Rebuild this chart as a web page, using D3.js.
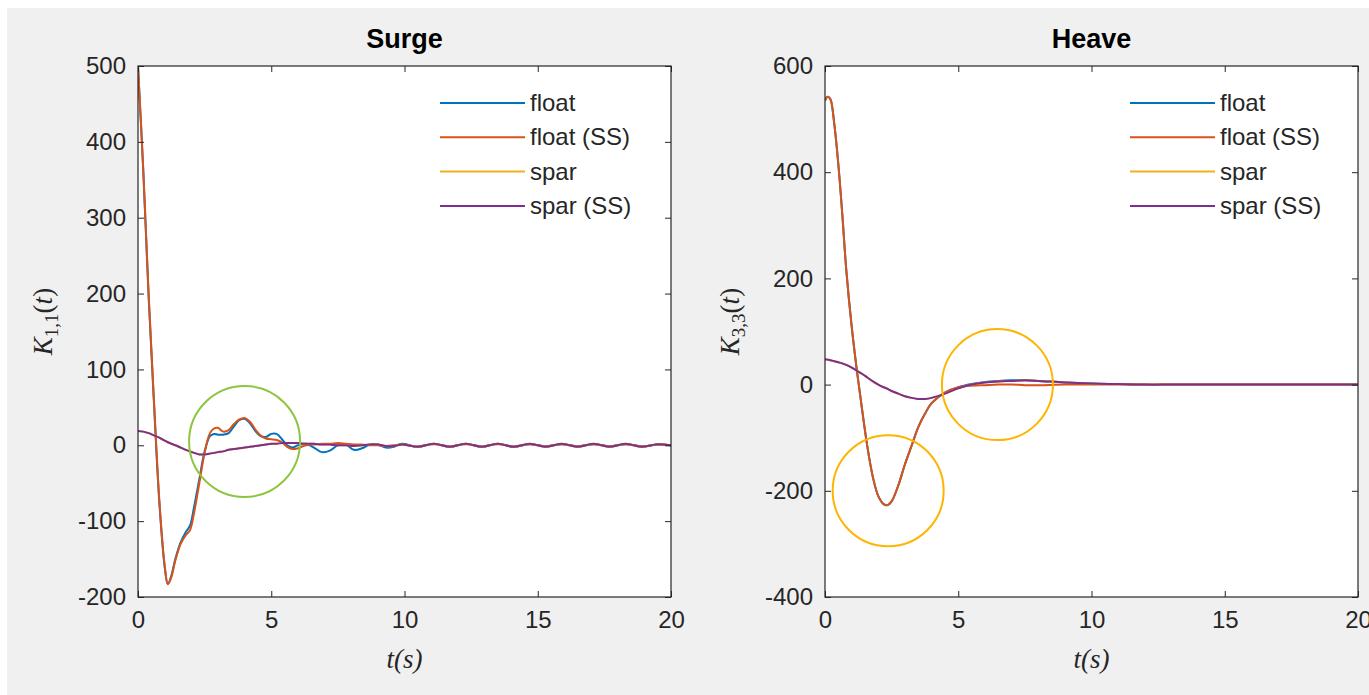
<!DOCTYPE html>
<html>
<head>
<meta charset="utf-8">
<script src="https://cdn.jsdelivr.net/npm/d3@7"></script>
<style>
  html, body { margin: 0; padding: 0; background: #fff; }
  svg { display: block; }
</style>
</head>
<body>
<div id="chart"></div>
<script>
// ---- data ----
const seriesNames = ['float', 'float (SS)', 'spar', 'spar (SS)'];
const seriesColors = ['#0072bd', '#d95319', '#edb120', '#7e2f8e'];

const surgeT = [0, 0.2, 0.4, 0.6, 0.8, 1.0, 1.12, 1.25, 1.4, 1.6, 1.8, 1.95, 2.1, 2.3, 2.5, 2.7, 2.85, 3.0,
  3.2, 3.4, 3.6, 3.8, 4.0, 4.2, 4.4, 4.6, 4.8, 5.0, 5.2, 5.4, 5.6, 5.8, 6.0,
  6.3, 6.6, 6.9, 7.2, 7.5, 7.8, 8.1, 8.4, 8.7, 9.0, 9.3, 9.6, 9.9,
  10.5, 11.1, 11.7, 12.3, 12.9, 13.5, 14.1, 14.7, 15.3, 15.9, 16.5, 17.1, 17.7, 18.3, 18.9, 19.5, 20];
const surgeFloat = [500, 360, 195, 55, -75, -160, -183, -172, -150, -128, -114, -106, -82, -45, -8, 12, 15, 14,
  14, 16, 25, 33, 35, 29, 19, 12, 11, 15, 15, 8, 0, -3, 0,
  2, -3, -9, -7, 0, 1, -6, -4, 1, 1, -3, -2, 2,
  -2, 2, -2, 2, -2, 2, -2, 1.5, -1.5, 1.5, -1.5, 1.5, -1.5, 1.5, -1.5, 1, 0];
const surgeFloatSS = [500, 362, 198, 58, -72, -158, -183, -174, -152, -130, -118, -112, -90, -50, -10, 16, 22, 23,
  18, 20, 28, 34, 36, 31, 21, 13, 9, 8, 7, 4, -2, -5, -4,
  0, 1, 2, 2, 3, 2, 1, 1, 0, 0, -1, 0, 1,
  -1.5, 1.5, -1.5, 1.5, -1.5, 1.5, -1.5, 1.5, -1.5, 1.5, -1.5, 1.5, -1.5, 1.5, -1.5, 1, 0];
const surgeSpar = [19, 18, 16, 13, 10, 6, 4, 2, 0, -3, -6, -8, -10, -12, -12, -11, -10, -9,
  -8, -6, -5, -4, -3, -2, -1, 0, 1, 2, 2, 3, 3, 3, 3,
  2, 2, 1, 1, 0, 0, -1, 0, 1, 1, -1, -1, 1,
  -2, 2, -2, 2, -2, 2, -2, 2, -2, 2, -2, 2, -2, 2, -2, 1.5, 0];
const surgeSparSS = [19, 18, 16, 13, 10, 6, 4, 2, 0, -3, -6, -8, -10, -12, -12, -11, -10, -9,
  -8, -6, -5, -4, -3, -2, -1, 0, 1, 2, 2, 3, 3, 3, 3,
  2, 2, 1, 1, 0, 0, -1, 0, 1, 1, -1, -1, 1,
  -2, 2, -2, 2, -2, 2, -2, 2, -2, 2, -2, 2, -2, 2, -2, 1.5, 0];

const heaveT = [0, 0.1, 0.2, 0.35, 0.5, 0.65, 0.8, 1.0, 1.2, 1.4, 1.6, 1.8, 2.0, 2.2, 2.35, 2.5, 2.75, 3.0,
  3.25, 3.5, 3.75, 4.0, 4.5, 5.0, 5.5, 6.0, 6.5, 7.0, 7.5, 8.0, 9, 10, 11, 12, 13, 14, 15, 16, 17, 18, 19, 20];
const heaveFloat = [535, 542, 538, 490, 415, 320, 215, 110, 25, -50, -120, -175, -210, -225, -227, -220, -190, -150,
  -115, -80, -55, -35, -15, -5, 1, 5, 7, 8, 8, 7, 4, 2, 1, 0, 0, 0, 0, 0, 0, 0, 0, 0];
const heaveFloatSS = [535, 542, 538, 490, 415, 320, 215, 110, 25, -50, -120, -175, -210, -225, -227, -220, -190, -150,
  -115, -80, -55, -35, -15, -5, -2, -1, 0, 0, -1, -1, 0, 0, 0, 0, 0, 0, 0, 0, 0, 0, 0, 0];
const heaveSpar = [48, 47, 46, 44, 42, 40, 37, 32, 26, 20, 13, 6, 0, -5, -8, -12, -17, -22,
  -25, -27, -27, -25, -17, -7, 0, 4, 6, 7, 8, 7, 4, 2, 1, 0, 0, 0, 0, 0, 0, 0, 0, 0];
const heaveSparSS = [48, 47, 46, 44, 42, 40, 37, 32, 26, 20, 13, 6, 0, -5, -8, -12, -17, -22,
  -25, -27, -27, -25, -17, -7, 0, 4, 6, 7, 8, 7, 4, 2, 1, 0, 0, 0, 0, 0, 0, 0, 0, 0];

const xTicks = [0, 5, 10, 15, 20];
const surgeYTicks = [-200, -100, 0, 100, 200, 300, 400, 500];
const heaveYTicks = [-400, -200, 0, 200, 400, 600];

// annotation circles, centres in data units
const surgeMarks = [{ t: 4.0, v: 5, color: '#8cc63f' }];
const heaveMarks = [{ t: 2.37, v: -200, color: '#ffb400' }, { t: 6.47, v: 0, color: '#ffb400' }];

// ---- drawing ----
const W = 1369, H = 695;
const INK = '#262626';
const SANS = '"Liberation Sans", Arial, Helvetica, sans-serif';
const SERIF = '"Liberation Serif", "DejaVu Serif", serif';
const plain = d => String(d);   // MATLAB style hyphen minus

const svg = d3.select('#chart').append('svg').attr('width', W).attr('height', H);
svg.append('rect').attr('x', 7).attr('y', 8).attr('width', W - 7).attr('height', H - 8).attr('fill', '#f0f0f0');

function panel(o) {
  const { left, right, top, bottom } = o;
  const x = d3.scaleLinear().domain([0, 20]).range([left, right]);
  const y = d3.scaleLinear().domain(o.yDomain).range([bottom, top]);
  const g = svg.append('g');

  g.append('rect').attr('x', left).attr('y', top).attr('width', right - left).attr('height', bottom - top).attr('fill', '#fff');

  const clipId = 'clip-' + o.id;
  svg.append('defs').append('clipPath').attr('id', clipId).append('rect')
    .attr('x', left).attr('y', top - 1).attr('width', right - left).attr('height', bottom - top + 2);

  const line = d3.line().x(d => x(d[0])).y(d => y(d[1])).curve(d3.curveCatmullRom.alpha(0.5));
  o.series.forEach((vals, i) => {
    g.append('path').datum(o.t.map((t, k) => [t, vals[k]]))
      .attr('d', line).attr('fill', 'none').attr('stroke', seriesColors[i])
      .attr('stroke-width', 2).attr('stroke-linejoin', 'round').attr('clip-path', `url(#${clipId})`);
  });

  // axes, ticks pointing inward on all four sides
  const styleAxis = sel => {
    sel.select('.domain').remove();
    sel.selectAll('.tick line').attr('stroke', INK);
    sel.selectAll('text').attr('font-family', SANS).attr('font-size', 24).attr('fill', INK);
  };
  g.append('g').attr('transform', `translate(0,${bottom})`)
    .call(d3.axisBottom(x).tickValues(xTicks).tickSizeInner(-6).tickPadding(14).tickFormat(plain))
    .call(styleAxis);
  g.append('g').attr('transform', `translate(0,${top})`)
    .call(d3.axisTop(x).tickValues(xTicks).tickSizeInner(-6).tickFormat(''))
    .call(styleAxis);
  g.append('g').attr('transform', `translate(${left},0)`)
    .call(d3.axisLeft(y).tickValues(o.yTicks).tickSizeInner(-6).tickPadding(12).tickFormat(plain))
    .call(styleAxis);
  g.append('g').attr('transform', `translate(${right},0)`)
    .call(d3.axisRight(y).tickValues(o.yTicks).tickSizeInner(-6).tickFormat(''))
    .call(styleAxis);
  g.append('rect').attr('x', left).attr('y', top).attr('width', right - left).attr('height', bottom - top)
    .attr('fill', 'none').attr('stroke', INK).attr('stroke-width', 1.2);

  // title
  g.append('text').attr('x', (left + right) / 2).attr('y', 48).attr('text-anchor', 'middle')
    .attr('font-family', SANS).attr('font-weight', 700).attr('font-size', 27).attr('fill', '#000').text(o.title);

  // x label  t(s)
  g.append('text').attr('x', (left + right) / 2).attr('y', 668).attr('text-anchor', 'middle')
    .attr('font-family', SERIF).attr('font-style', 'italic').attr('font-size', 27).attr('fill', INK).text('t(s)');

  // y label  K_{i,i}(t)
  const yl = g.append('text').attr('transform', `translate(${left - 86},${(top + bottom) / 2 - 10}) rotate(-90)`)
    .attr('text-anchor', 'middle').attr('font-family', SERIF).attr('font-size', 27).attr('fill', INK);
  yl.append('tspan').attr('font-style', 'italic').text('K');
  yl.append('tspan').attr('font-size', 19).attr('dy', 6).text(o.sub);
  yl.append('tspan').attr('dy', -6).text('(');
  yl.append('tspan').attr('font-style', 'italic').text('t');
  yl.append('tspan').text(')');

  // legend
  const lx = o.legendX, ly = 103, step = 34.3;
  seriesNames.forEach((name, i) => {
    g.append('line').attr('x1', lx).attr('x2', lx + 85).attr('y1', ly + i * step).attr('y2', ly + i * step)
      .attr('stroke', seriesColors[i]).attr('stroke-width', 2);
    g.append('text').attr('x', lx + 90).attr('y', ly + i * step + 8)
      .attr('font-family', SANS).attr('font-size', 24).attr('fill', INK).text(name);
  });

  // annotation circles
  o.marks.forEach(m => {
    g.append('circle').attr('cx', x(m.t)).attr('cy', y(m.v)).attr('r', 55.5)
      .attr('fill', 'none').attr('stroke', m.color).attr('stroke-width', 2);
  });
}

panel({
  id: 'surge', title: 'Surge', sub: '1,1', left: 138, right: 671, top: 66, bottom: 597,
  yDomain: [-200, 500], yTicks: surgeYTicks, t: surgeT,
  series: [surgeFloat, surgeFloatSS, surgeSpar, surgeSparSS], legendX: 440, marks: surgeMarks
});
panel({
  id: 'heave', title: 'Heave', sub: '3,3', left: 825, right: 1358, top: 66, bottom: 597,
  yDomain: [-400, 600], yTicks: heaveYTicks, t: heaveT,
  series: [heaveFloat, heaveFloatSS, heaveSpar, heaveSparSS], legendX: 1130, marks: heaveMarks
});
</script>
</body>
</html>
